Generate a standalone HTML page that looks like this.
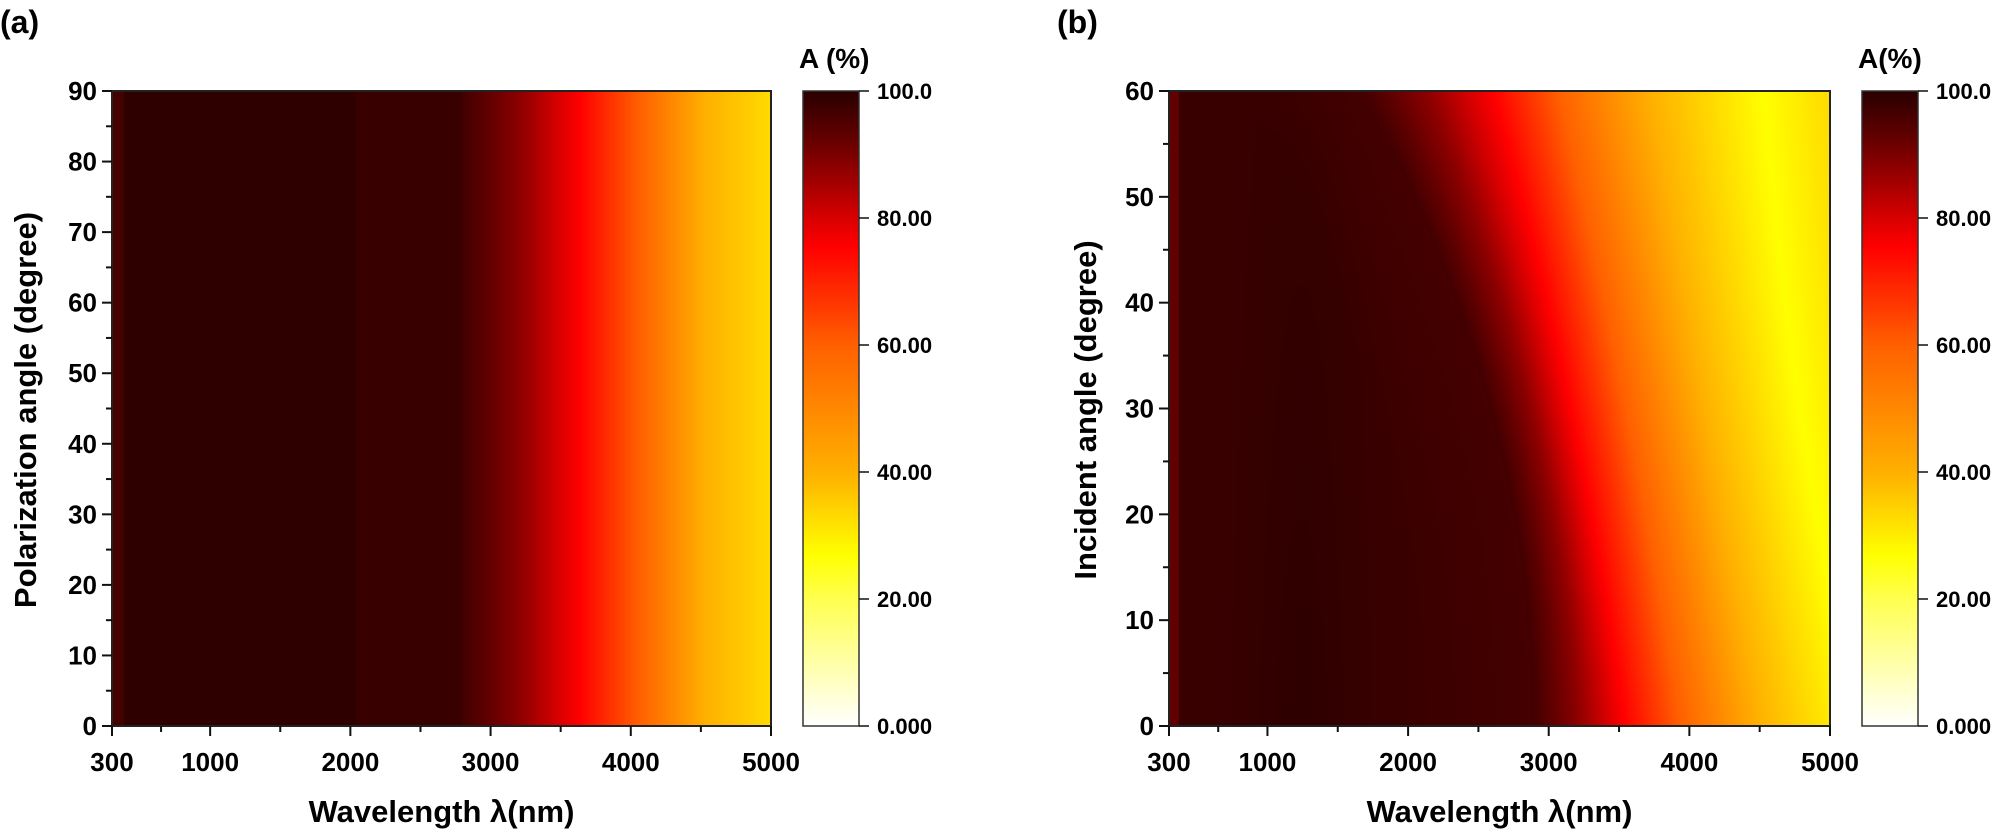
<!DOCTYPE html>
<html><head><meta charset="utf-8">
<style>
html,body{margin:0;padding:0;background:#fff;}
#wrap{position:relative;width:1996px;height:834px;overflow:hidden;font-family:"Liberation Sans",Arial,sans-serif;}
canvas{position:absolute;}
#pa{left:112px;top:91px;background:linear-gradient(to right,#4a0000 0%,#300000 2%,#300000 37%,#3c0000 37.5%,#3c0000 53%,#900000 62%,#ff0000 71%,#ff6000 80%,#ffb000 90%,#ffd000 100%);}
#pb{left:1169px;top:91px;background:linear-gradient(to right,#4a0000 0%,#300000 3%,#3c0000 40%,#900000 55%,#ff0000 62%,#ff6000 73%,#ffb000 85%,#ffee00 100%);}
#ca{left:803px;top:91px;}
#cb{left:1862px;top:91px;}
svg{position:absolute;left:0;top:0;}
text{font-family:"Liberation Sans",Arial,sans-serif;font-weight:bold;fill:#000;}
</style></head><body>
<div id="wrap">
<canvas id="pa" width="659" height="635"></canvas>
<canvas id="pb" width="661" height="635"></canvas>
<canvas id="ca" width="56" height="635"></canvas>
<canvas id="cb" width="56" height="635"></canvas>
<svg id="ov" width="1996" height="834" xmlns="http://www.w3.org/2000/svg"></svg>
</div>
<script>
(function(){
var stops=[[0,[255,255,255]],[20,[255,255,80]],[27,[255,255,0]],[40,[255,176,0]],[60,[255,96,0]],[75.5,[255,0,0]],[80,[216,0,0]],[86,[160,0,0]],[93,[96,0,0]],[100,[42,0,0]]];
function cmap(v){if(v<=0)return stops[0][1];if(v>=100)return stops[stops.length-1][1];
for(var i=1;i<stops.length;i++){if(v<=stops[i][0]){var a=stops[i-1],b=stops[i],t=(v-a[0])/(b[0]-a[0]);return [a[1][0]+(b[1][0]-a[1][0])*t,a[1][1]+(b[1][1]-a[1][1])*t,a[1][2]+(b[1][2]-a[1][2])*t];}}}
function pw(x,pts){if(x<=pts[0][0])return pts[0][1];for(var i=1;i<pts.length;i++){if(x<=pts[i][0]){var a=pts[i-1],b=pts[i];return a[1]+(b[1]-a[1])*(x-a[0])/(b[0]-a[0]);}}return pts[pts.length-1][1];}
function draw(id,fn){var c=document.getElementById(id),ctx=c.getContext('2d'),W=c.width,H=c.height,img=ctx.createImageData(W,H),d=img.data;
for(var y=0;y<H;y++){var t=1-y/(H-1);for(var x=0;x<W;x++){var f=x/(W-1);var col=cmap(fn(f,t));var k=(y*W+x)*4;d[k]=col[0];d[k+1]=col[1];d[k+2]=col[2];d[k+3]=255;}}
ctx.putImageData(img,0,0);}
var P1=[[0,97],[0.5,88],[1,75.5]], P2=[[0,75.5],[0.24,60],[0.58,40],[1,27]];
function ramp(f,d,r,p){
 if(f<r)return pw((f-d)/(r-d),P1);
 if(f<p)return pw((f-r)/(p-r),P2);
 return 27+(f-p)*60;}
draw('pa',function(f,t){
 if(f<0.018)return 96.5;
 if(f<0.37)return 99.5;
 if(f<0.53)return 98;
 return pw(f,[[0.53,97],[0.62,88],[0.71,75.5],[0.80,60],[0.90,40],[1.0,33]]);});
draw('pb',function(f,t){
 var d=0.55-0.26*t*t, r=0.69-0.13*t-0.07*t*t, p=1.04-0.2*t+0.06*t*t;
 if(f<0.015)return 93;
 if(f<d){var v=98+1.5*Math.exp(-Math.pow((f-0.2)/0.08,2))*(1-0.7*t);
   var w=Math.min(0.18,d-0.02);if(f>d-w)v-=1.5*(f-(d-w))/w;
   return v;}
 return ramp(f,d,r,p);});
function cb(id){var c=document.getElementById(id),ctx=c.getContext('2d');var H=c.height;
for(var y=0;y<H;y++){var col=cmap(100*(1-y/(H-1)));ctx.fillStyle='rgb('+Math.round(col[0])+','+Math.round(col[1])+','+Math.round(col[2])+')';ctx.fillRect(0,y,c.width,1);}}
cb('ca');cb('cb');

var s='';
function L(x1,y1,x2,y2,w){s+='<line x1="'+x1+'" y1="'+y1+'" x2="'+x2+'" y2="'+y2+'" stroke="#111" stroke-width="'+(w||2)+'"/>';}
function T(x,y,txt,sz,anc,extra){s+='<text x="'+x+'" y="'+y+'" font-size="'+sz+'" text-anchor="'+(anc||'start')+'" '+(extra||'')+'>'+txt+'</text>';}
var yt=91,yb=726;
function panel(x0,x1,ymax,ytitle,tx,lbl,lx,cbx,cbt,cbtx){
 var W=x1-x0;
 s+='<rect x="'+x0+'" y="'+yt+'" width="'+W+'" height="'+(yb-yt)+'" fill="none" stroke="#222" stroke-width="2"/>';
 [300,1000,2000,3000,4000,5000].forEach(function(v){var x=x0+(v-300)/4700*W;L(x,yb,x,yb+10);T(x,771,v,26,'middle');});
 [650,1500,2500,3500,4500].forEach(function(v){var x=x0+(v-300)/4700*W;L(x,yb,x,yb+6);});
 for(var v=0;v<=ymax;v+=5){var y=yb-(v/ymax)*(yb-yt);if(v%10==0){L(x0-10,y,x0,y);T(x0-15,y+9,v,26,'end');}else L(x0-6,y,x0,y);}
 T(x0+W/2,822,'Wavelength λ(nm)',31,'middle');
 T(tx,410,ytitle,31,'middle','transform="rotate(-90 '+tx+' 410)" dy="11"');
 T(lx,33,lbl,32,'start');
 s+='<rect x="'+cbx+'" y="'+yt+'" width="56" height="'+(yb-yt)+'" fill="none" stroke="#333" stroke-width="1.5"/>';
 var labs=['100.0','80.00','60.00','40.00','20.00','0.000'];
 for(var i=0;i<6;i++){var y=yt+i*(yb-yt)/5;L(cbx+56,y,cbx+66,y,1.5);T(cbx+74,y+8,labs[i],22,'start');}
 T(cbtx,68,cbt,28,'start');
}
panel(112,771,90,'Polarization angle (degree)',25,'(a)',0,803,'A (%)',799);
panel(1169,1830,60,'Incident angle (degree)',1085,'(b)',1057,1862,'A(%)',1858);
document.getElementById('ov').innerHTML=s;
})();
</script>
</body></html>
